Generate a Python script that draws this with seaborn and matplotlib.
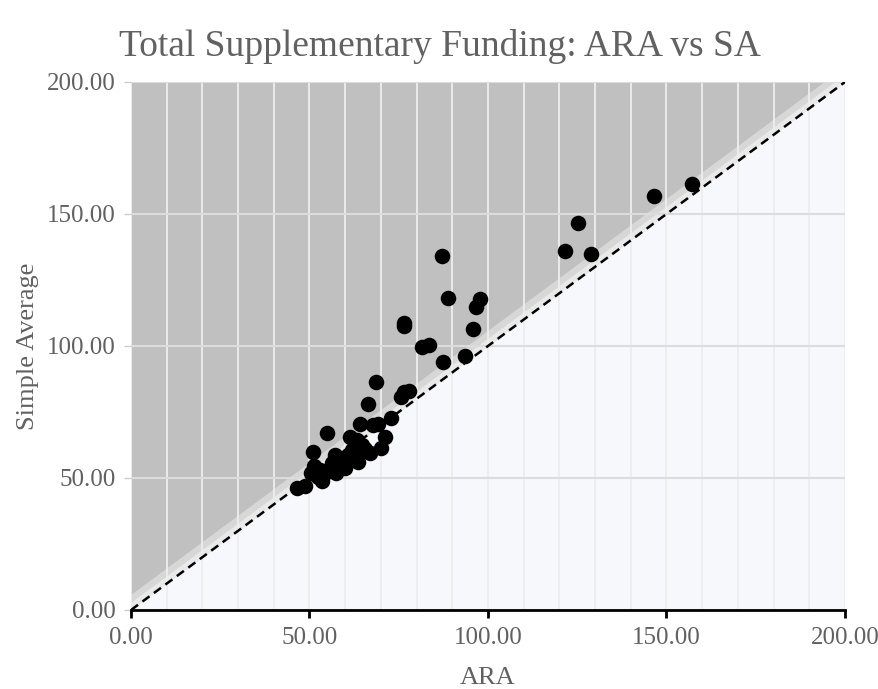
import numpy as np
import pandas as pd
import matplotlib
matplotlib.use("Agg")
import matplotlib.pyplot as plt
import seaborn as sns

# ---- data ----
ara = [46.5, 48.7, 51.0, 51.3, 52.4, 53.5, 52.9, 54.9, 55.2, 56.3,
       57.1, 58.0, 59.4, 59.9, 60.8, 61.3, 61.9, 62.7, 63.3, 63.6,
       64.1, 64.7, 66.4, 66.9, 67.8, 68.6, 69.2, 70.0, 71.1, 72.8,
       75.6, 76.5, 77.9, 76.5, 76.6, 81.5, 83.5, 87.4, 87.1, 88.8,
       93.6, 95.8, 96.6, 97.8, 121.6, 125.2, 128.9, 146.5, 157.1,
       54.0, 57.5, 60.0, 62.0, 65.5, 50.5]
sa = [46.2, 47.0, 59.8, 54.5, 50.4, 48.9, 53.0, 67.0, 53.0, 55.7,
      58.7, 54.5, 56.8, 53.8, 58.7, 65.5, 60.6, 56.8, 64.4, 56.1,
      70.5, 62.5, 78.0, 59.5, 70.1, 86.4, 70.5, 61.4, 65.5, 72.7,
      80.7, 82.6, 83.0, 108.7, 107.4, 99.6, 100.4, 93.9, 134.1, 118.2,
      96.2, 106.4, 114.8, 117.8, 136.0, 146.6, 134.8, 156.8, 161.4,
      51.5, 52.0, 55.0, 59.0, 61.0, 51.8]
ticks = [0, 50, 100, 150, 200]
tick_labels = ["0.00", "50.00", "100.00", "150.00", "200.00"]
band_offsets = [0, 3, 6]
band_colors = ["#e9e9e9", "#d7d7d7", "#c0c0c0"]

df = pd.DataFrame({"ARA": ara, "Simple Average": sa})

sns.set_theme(style="white")
plt.rcParams["font.family"] = ["Liberation Serif", "DejaVu Serif"]

fig = plt.figure(figsize=(8.79, 6.89), dpi=100)
ax = fig.add_axes([131 / 879, 1 - 610 / 689, 714 / 879, 528 / 689])
ax.set_facecolor("#f7f8fc")

line_x = np.array([0, 200])
for off, col in zip(band_offsets, band_colors):
    ax.fill_between(line_x, line_x + off, 200, color=col, linewidth=0, zorder=0.2)

# gridlines
ax.set_axisbelow(True)
ax.set_xticks(np.arange(0, 201, 10), minor=True)
ax.grid(True, which="minor", axis="x", color="#eeeeee", linewidth=1.3)
ax.grid(True, which="major", axis="x", color="#eeeeee", linewidth=1.3)
ax.grid(True, which="major", axis="y", color="#dcdcdc", linewidth=1.5)

ax.plot(line_x, line_x, color="black", linestyle=(0, (3.5, 2.2)), linewidth=1.8, zorder=3)

sns.scatterplot(data=df, x="ARA", y="Simple Average", ax=ax, s=125,
                color="black", edgecolor="black", linewidth=0, zorder=4,
                legend=False)

ax.set_xlim(0, 200)
ax.set_ylim(0, 200)
ax.set_xticks(ticks)
ax.set_xticklabels(tick_labels)
ax.set_yticks(ticks)
ax.set_yticklabels(tick_labels)

for s in ["top", "right", "left"]:
    ax.spines[s].set_visible(False)
ax.spines["bottom"].set_color("black")
ax.spines["bottom"].set_linewidth(2)
ax.spines["bottom"].set_zorder(5)

ax.tick_params(axis="x", which="major", direction="out", length=6, width=2,
               color="black", labelsize=18, labelcolor="#616161", pad=6)
ax.tick_params(axis="x", which="minor", length=0)
ax.tick_params(axis="y", which="major", direction="out", length=5, width=1,
               color="#cccccc", labelsize=18, labelcolor="#616161", pad=6)
ax.tick_params(left=True, bottom=True)

ax.set_xlabel("ARA", fontsize=19, color="#616161", labelpad=13)
ax.set_ylabel("Simple Average", fontsize=19, color="#616161", labelpad=6)

fig.text(0.5, 1 - 47 / 689, "Total Supplementary Funding: ARA vs SA",
         ha="center", va="center", fontsize=27, color="#616161")

fig.savefig("out.png", dpi=100)
